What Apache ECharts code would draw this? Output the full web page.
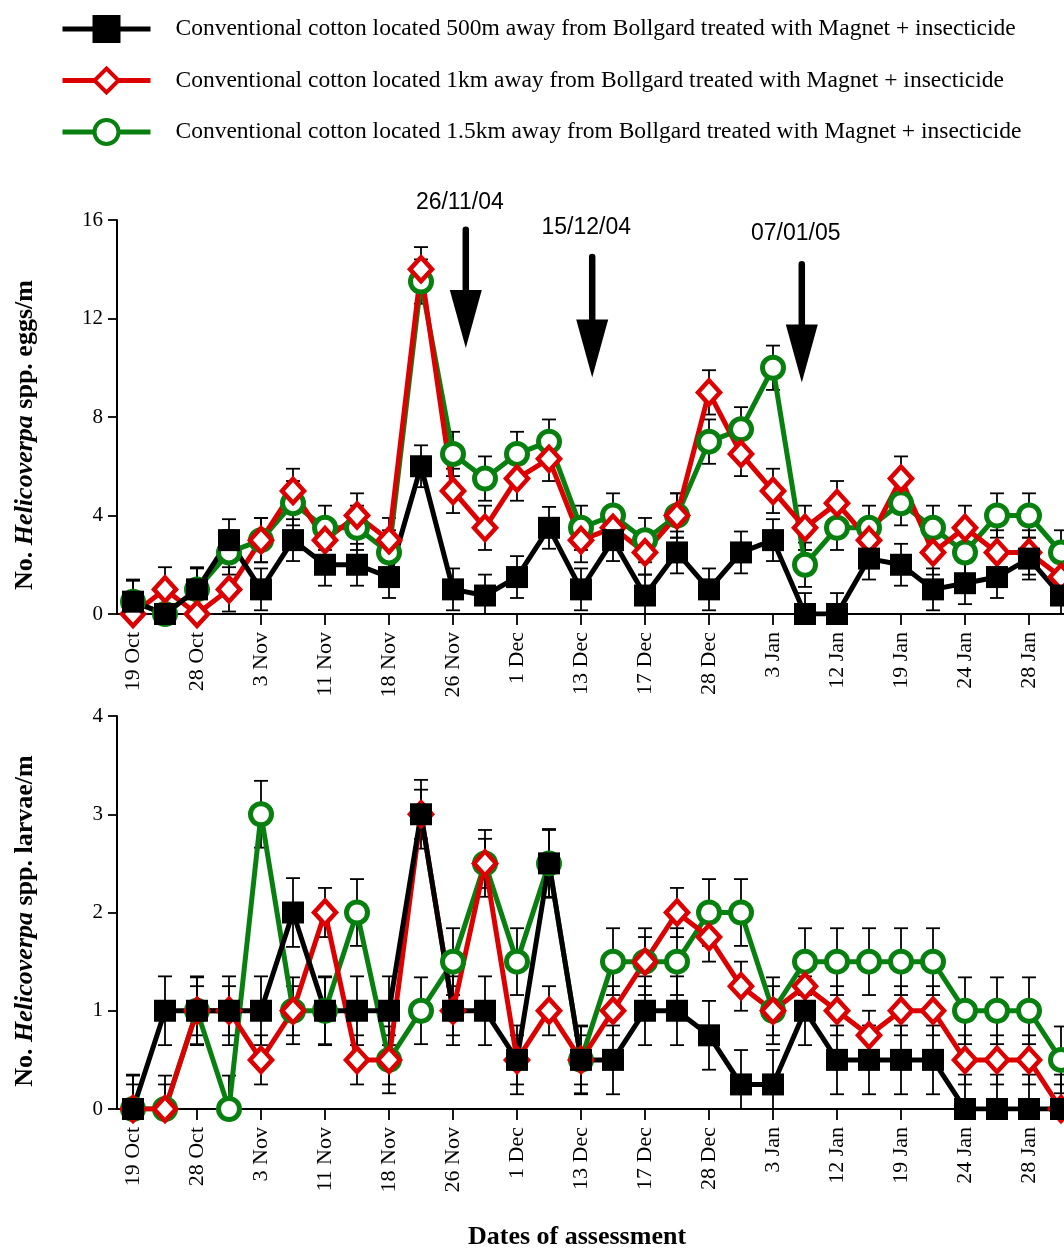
<!DOCTYPE html>
<html>
<head>
<meta charset="utf-8">
<script src="https://cdn.jsdelivr.net/npm/echarts@6/dist/echarts.min.js"></script>
<style>
  html, body { margin: 0; padding: 0; background: #fff; }
  #chart { width: 1064px; height: 1249px; }
</style>
</head>
<body>
<div id="chart"></div>
<script>
// Assessment dates shown on the x axis (one label every second assessment)
const tickLabels = ['19 Oct', '28 Oct', '3 Nov', '11 Nov', '18 Nov', '26 Nov', '1 Dec',
  '13 Dec', '17 Dec', '28 Dec', '3 Jan', '12 Jan', '19 Jan', '24 Jan', '28 Jan'];

const seriesNames = [
  'Conventional cotton located 500m away from Bollgard treated with Magnet + insecticide',
  'Conventional cotton located 1km away from Bollgard treated with Magnet + insecticide',
  'Conventional cotton located 1.5km away from Bollgard treated with Magnet + insecticide'
];

// Helicoverpa eggs per metre, one value per assessment (30 assessments)
const eggs500 = [0.5, 0, 1, 3, 1, 3, 2, 2, 1.5, 6, 1, 0.75, 1.5, 3.5, 1, 3, 0.75, 2.5, 1, 2.5,
  3, 0, 0, 2.25, 2, 1, 1.25, 1.5, 2.25, 0.75];
const eggs1k = [0, 1, 0, 1, 3, 5, 3, 4, 3, 14, 5, 3.5, 5.5, 6.3, 3, 3.5, 2.5, 4, 9, 6.5,
  5, 3.5, 4.5, 3, 5.5, 2.5, 3.5, 2.5, 2.5, 1.5];
const eggs15k = [0.5, 0, 1, 2.5, 3, 4.5, 3.5, 3.5, 2.5, 13.5, 6.5, 5.5, 6.5, 7, 3.5, 4, 3, 4, 7, 7.5,
  10, 2, 3.5, 3.5, 4.5, 3.5, 2.5, 4, 4, 2.5];

// Helicoverpa larvae per metre
const larvae500 = [0, 1, 1, 1, 1, 2, 1, 1, 1, 3, 1, 1, 0.5, 2.5, 0.5, 0.5, 1, 1, 0.75, 0.25,
  0.25, 1, 0.5, 0.5, 0.5, 0.5, 0, 0, 0, 0];
const larvae1k = [0, 0, 1, 1, 0.5, 1, 2, 0.5, 0.5, 3, 1, 2.5, 0.5, 1, 0.5, 1, 1.5, 2, 1.75, 1.25,
  1, 1.25, 1, 0.75, 1, 1, 0.5, 0.5, 0.5, 0];
const larvae15k = [0, 0, 1, 0, 3, 1, 1, 2, 0.5, 1, 1.5, 2.5, 1.5, 2.5, 0.5, 1.5, 1.5, 1.5, 2, 2,
  1, 1.5, 1.5, 1.5, 1.5, 1.5, 1, 1, 1, 0.5];

// Standard errors (500m, 1km, 1.5km)
const eggsSE = [0.85, 0.9, 0.9];
const larvaeSE = [0.35, 0.25, 0.34];

// Spray application dates marked with arrows on the egg panel
const sprayLabels = ['26/11/04', '15/12/04', '07/01/05'];
const sprayAt = [10.4, 14.35, 20.9];

const FONT_SERIF = '"Liberation Serif", "Times New Roman", serif';
const FONT_SANS = '"Liberation Sans", Arial, sans-serif';
const RED = '#dd0000';
const GREEN = '#08800f';

const tickPositions = tickLabels.map((_, i) => i * 2);
const toPairs = arr => arr.map((v, i) => [i, v]);

function xAxisFor(gridIndex) {
  return {
    type: 'value', gridIndex, min: -0.5, max: 29.5,
    axisLine: { show: true, onZero: false, lineStyle: { color: '#000', width: 2 } },
    axisTick: { show: true, customValues: tickPositions, length: 11, lineStyle: { color: '#000', width: 1.8 } },
    axisLabel: {
      customValues: tickPositions, rotate: 90, margin: 18,
      formatter: v => tickLabels[Math.round(v / 2)],
      fontFamily: FONT_SERIF, fontSize: 22, color: '#000'
    },
    splitLine: { show: false }
  };
}

function yAxisFor(gridIndex, max, interval) {
  return {
    type: 'value', gridIndex, min: 0, max, interval,
    axisLine: { show: true, onZero: false, lineStyle: { color: '#000', width: 2 } },
    axisTick: { show: true, length: 9, lineStyle: { color: '#000', width: 1.8 } },
    axisLabel: { margin: 14, fontFamily: FONT_SERIF, fontSize: 21, color: '#000' },
    splitLine: { show: false }
  };
}

const markerStyles = [
  { symbol: 'rect', symbolSize: 22, itemStyle: { color: '#000', borderColor: '#000', borderWidth: 0 }, lineColor: '#000' },
  { symbol: 'diamond', symbolSize: [22, 24], itemStyle: { color: '#fff', borderColor: RED, borderWidth: 4.5 }, lineColor: RED },
  { symbol: 'circle', symbolSize: 21, itemStyle: { color: '#fff', borderColor: GREEN, borderWidth: 5 }, lineColor: GREEN }
];

function lineSeries(k, values, axisIndex) {
  const m = markerStyles[k];
  return {
    name: seriesNames[k], type: 'line', xAxisIndex: axisIndex, yAxisIndex: axisIndex,
    data: toPairs(values), symbol: m.symbol, symbolSize: m.symbolSize,
    showAllSymbol: true, z: 3,
    lineStyle: { color: m.lineColor, width: 5 },
    itemStyle: m.itemStyle,
    emphasis: { disabled: true }
  };
}

function errorSeries(values, se, axisIndex) {
  return {
    type: 'custom', xAxisIndex: axisIndex, yAxisIndex: axisIndex, silent: true, z: 2, clip: true,
    data: values.map((v, i) => [i, v - se, v + se]),
    encode: { x: 0, y: [1, 2] },
    renderItem(params, api) {
      const x = api.value(0);
      const lo = api.coord([x, api.value(1)]);
      const hi = api.coord([x, api.value(2)]);
      const hw = 7;
      const style = { stroke: '#000', lineWidth: 1.8, fill: null };
      return {
        type: 'group', children: [
          { type: 'line', shape: { x1: lo[0], y1: lo[1], x2: hi[0], y2: hi[1] }, style },
          { type: 'line', shape: { x1: hi[0] - hw, y1: hi[1], x2: hi[0] + hw, y2: hi[1] }, style },
          { type: 'line', shape: { x1: lo[0] - hw, y1: lo[1], x2: lo[0] + hw, y2: lo[1] }, style }
        ]
      };
    }
  };
}

const eggSets = [eggs500, eggs1k, eggs15k];
const larvaSets = [larvae500, larvae1k, larvae15k];
const series = [];
// error bars first, then lines drawn green → red → black so black sits on top
[2, 1, 0].forEach(k => {
  series.push(errorSeries(eggSets[k], eggsSE[k], 0));
  series.push(errorSeries(larvaSets[k], larvaeSE[k], 1));
});
[2, 1, 0].forEach(k => {
  series.push(lineSeries(k, eggSets[k], 0));
  series.push(lineSeries(k, larvaSets[k], 1));
});

const chart = echarts.init(document.getElementById('chart'), null, { renderer: 'canvas' });

chart.setOption({
  backgroundColor: '#fff',
  animation: false,
  legend: {
    data: seriesNames, orient: 'vertical', left: 60, top: 15, padding: 0,
    itemWidth: 88, itemHeight: 30, itemGap: 23.5, selectedMode: false,
    lineStyle: { width: 5 },
    itemStyle: { borderWidth: 4 },
    textStyle: { fontFamily: FONT_SERIF, fontSize: 23.5, color: '#000', padding: [0, 0, 0, 20] }
  },
  grid: [
    { left: 117, top: 220, width: 960, height: 394, containLabel: false, outerBoundsMode: 'none' },
    { left: 117, top: 716, width: 960, height: 393, containLabel: false, outerBoundsMode: 'none' }
  ],
  xAxis: [xAxisFor(0), xAxisFor(1)],
  yAxis: [yAxisFor(0, 16, 4), yAxisFor(1, 4, 1)],
  series
});

// Titles and spray-date arrows
const richTitle = {
  b: { fontFamily: FONT_SERIF, fontSize: 26, fontWeight: 'bold', fill: '#000' },
  bi: { fontFamily: FONT_SERIF, fontSize: 26, fontWeight: 'bold', fontStyle: 'italic', fill: '#000' }
};
const graphics = [
  {
    type: 'text', x: 25, y: 435, rotation: Math.PI / 2,
    style: { text: '{b|No. }{bi|Helicoverpa}{b| spp. eggs/m}', rich: richTitle, align: 'center', verticalAlign: 'middle' }
  },
  {
    type: 'text', x: 25, y: 921, rotation: Math.PI / 2,
    style: { text: '{b|No. }{bi|Helicoverpa}{b| spp. larvae/m}', rich: richTitle, align: 'center', verticalAlign: 'middle' }
  },
  {
    type: 'text', x: 577, y: 1237,
    style: { text: 'Dates of assessment', font: 'bold 26px ' + FONT_SERIF, fill: '#000', align: 'center', verticalAlign: 'middle' }
  }
];

const arrowTop = [15.6, 14.5, 14.2];
const arrowTip = [10.8, 9.6, 9.4];
const labelAt = [16.7, 15.7, 15.45];
sprayLabels.forEach((txt, i) => {
  const t = chart.convertToPixel({ gridIndex: 0 }, [sprayAt[i], labelAt[i]]);
  const top = chart.convertToPixel({ gridIndex: 0 }, [sprayAt[i], arrowTop[i]]);
  const tip = chart.convertToPixel({ gridIndex: 0 }, [sprayAt[i], arrowTip[i]]);
  const headH = 58, headW = 16;
  graphics.push({
    type: 'text', x: t[0] - 6, y: t[1],
    style: { text: txt, font: '23px ' + FONT_SANS, fill: '#000', align: 'center', verticalAlign: 'middle' }
  });
  graphics.push({
    type: 'line', shape: { x1: top[0], y1: top[1], x2: tip[0], y2: tip[1] - headH + 4 },
    style: { stroke: '#000', lineWidth: 6.5, lineCap: 'round' }
  });
  graphics.push({
    type: 'polygon', shape: { points: [[tip[0] - headW, tip[1] - headH], [tip[0] + headW, tip[1] - headH], [tip[0], tip[1]]] },
    style: { fill: '#000' }
  });
});

chart.setOption({ graphic: graphics });
</script>
</body>
</html>
